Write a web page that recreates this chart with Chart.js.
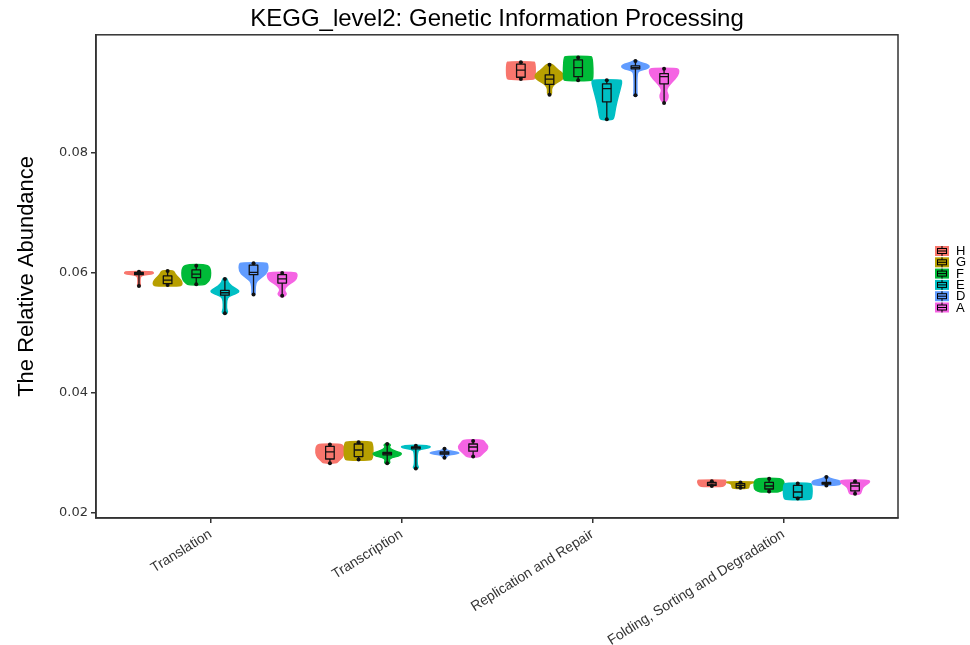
<!DOCTYPE html>
<html>
<head>
<meta charset="utf-8">
<script src="https://cdn.jsdelivr.net/npm/chart.js@4.4.1/dist/chart.umd.min.js"></script>
<style>
    html, body { margin: 0; background: #fff; }
    #wrap { width: 970px; height: 645px; }
</style>
</head>
<body>
<div id="wrap"><canvas id="chart"></canvas></div>
<script>
const categories = ['Translation', 'Transcription', 'Replication and Repair', 'Folding, Sorting and Degradation'];
const groups = ['H', 'G', 'F', 'E', 'D', 'A'];
const groupColors = ['#F8766D', '#B79F00', '#00BA38', '#00BFC4', '#619CFF', '#F564E3'];
const yTicks = [0.02, 0.04, 0.06, 0.08];

// box stats per group: [min, q1, median, q3, max]
const translationBox = [
    [0.0578, 0.0597, 0.0599, 0.0601, 0.0602],
    [0.0580, 0.0582, 0.0588, 0.0595, 0.0603],
    [0.0581, 0.0592, 0.0598, 0.0605, 0.0612],
    [0.0533, 0.0563, 0.0567, 0.0571, 0.0590],
    [0.0564, 0.0597, 0.0601, 0.0613, 0.0616],
    [0.0562, 0.0583, 0.0590, 0.0597, 0.0600]
];
const transcriptionBox = [
    [0.0283, 0.0290, 0.0302, 0.0311, 0.0314],
    [0.0289, 0.0294, 0.0305, 0.0315, 0.0318],
    [0.0283, 0.0297, 0.0299, 0.0301, 0.0315],
    [0.0274, 0.0307, 0.0309, 0.0310, 0.0312],
    [0.0292, 0.0298, 0.0300, 0.0302, 0.0307],
    [0.0294, 0.0303, 0.0310, 0.0315, 0.0320]
];
const replicationBox = [
    [0.0923, 0.0926, 0.0938, 0.0948, 0.0951],
    [0.0897, 0.0914, 0.0923, 0.0930, 0.0947],
    [0.0921, 0.0927, 0.0942, 0.0955, 0.0959],
    [0.0856, 0.0885, 0.0907, 0.0915, 0.0921],
    [0.0896, 0.0940, 0.0942, 0.0945, 0.0953],
    [0.0883, 0.0915, 0.0927, 0.0932, 0.0940]
];
const foldingBox = [
    [0.0245, 0.0246, 0.0248, 0.0251, 0.0253],
    [0.0242, 0.0242, 0.0246, 0.0249, 0.0251],
    [0.0236, 0.0240, 0.0245, 0.0251, 0.0257],
    [0.0224, 0.0226, 0.0235, 0.0246, 0.0249],
    [0.0246, 0.0248, 0.0249, 0.0251, 0.0260],
    [0.0232, 0.0237, 0.0245, 0.0250, 0.0253]
];

// violin outlines per group: [value, relative density width], top to bottom
const translationShape = [
    [[0.06025, 0.85], [0.0601, 1.0], [0.05985, 1.0], [0.0597, 0.4], [0.0595, 0.12], [0.0590, 0.07], [0.0582, 0.07], [0.0578, 0.12]],
    [[0.0604, 0.42], [0.0598, 0.5], [0.0590, 0.85], [0.0585, 1.0], [0.0580, 1.0], [0.0578, 0.8]],
    [[0.0614, 0.55], [0.0610, 1.0], [0.0590, 1.0], [0.0582, 0.7], [0.0580, 0.5]],
    [[0.0591, 0.15], [0.0585, 0.2], [0.0578, 0.45], [0.0572, 0.9], [0.0569, 1.0], [0.0565, 0.75], [0.0561, 0.25], [0.0555, 0.12], [0.0540, 0.1], [0.0535, 0.2], [0.0532, 0.12]],
    [[0.0617, 0.85], [0.0615, 1.0], [0.0602, 1.0], [0.0595, 0.7], [0.0589, 0.35], [0.0584, 0.15], [0.0570, 0.1], [0.0564, 0.12]],
    [[0.0601, 0.8], [0.0599, 1.05], [0.0590, 1.0], [0.0585, 0.75], [0.0580, 0.4], [0.0575, 0.2], [0.0570, 0.15], [0.0566, 0.3], [0.0563, 0.25], [0.0560, 0.1]]
];
const transcriptionShape = [
    [[0.0315, 0.7], [0.0312, 0.95], [0.0300, 1.0], [0.0292, 0.85], [0.0287, 0.6], [0.0283, 0.45]],
    [[0.0319, 0.75], [0.0317, 1.0], [0.0291, 1.0], [0.0288, 0.8]],
    [[0.0316, 0.1], [0.0313, 0.25], [0.0311, 0.12], [0.0306, 0.25], [0.0302, 0.75], [0.0299, 1.05], [0.0295, 0.8], [0.0292, 0.3], [0.0289, 0.12], [0.0284, 0.2], [0.0282, 0.1]],
    [[0.0313, 0.5], [0.0311, 1.0], [0.0309, 1.0], [0.0306, 0.3], [0.0303, 0.1], [0.0280, 0.08], [0.0276, 0.2], [0.0274, 0.1]],
    [[0.0307, 0.1], [0.0304, 0.2], [0.0301, 1.0], [0.0299, 1.0], [0.0297, 0.3], [0.0294, 0.15], [0.0292, 0.1]],
    [[0.0322, 0.55], [0.0320, 0.75], [0.0316, 0.85], [0.0311, 1.05], [0.0305, 0.95], [0.0300, 0.7], [0.0295, 0.5], [0.0293, 0.3]]
];
const replicationShape = [
    [[0.0952, 0.85], [0.0950, 1.0], [0.0925, 1.0], [0.0922, 0.85]],
    [[0.0948, 0.12], [0.0945, 0.3], [0.0938, 0.6], [0.0931, 1.0], [0.0924, 1.0], [0.0918, 0.55], [0.0913, 0.25], [0.0906, 0.12], [0.0900, 0.15], [0.0897, 0.1]],
    [[0.0961, 0.85], [0.0959, 1.0], [0.0923, 1.05], [0.0920, 0.9]],
    [[0.0922, 0.9], [0.0920, 1.05], [0.0912, 1.0], [0.0895, 0.8], [0.0875, 0.6], [0.0858, 0.5], [0.0855, 0.35]],
    [[0.0954, 0.12], [0.0951, 0.25], [0.0948, 0.8], [0.0944, 1.0], [0.0940, 0.8], [0.0937, 0.2], [0.0930, 0.1], [0.0898, 0.1], [0.0895, 0.15]],
    [[0.0941, 0.85], [0.0938, 1.05], [0.0928, 0.95], [0.0918, 0.55], [0.0910, 0.25], [0.0903, 0.15], [0.0896, 0.3], [0.0890, 0.25], [0.0884, 0.1]]
];
const foldingShape = [
    [[0.0255, 0.8], [0.0254, 1.0], [0.0247, 0.95], [0.0244, 0.7]],
    [[0.0252, 0.9], [0.0251, 1.0], [0.0249, 0.6], [0.0243, 0.6], [0.0241, 0.5]],
    [[0.0258, 0.55], [0.0256, 0.9], [0.0252, 1.05], [0.0240, 1.05], [0.0236, 0.8], [0.0235, 0.5]],
    [[0.0250, 0.8], [0.0248, 1.0], [0.0225, 1.0], [0.0222, 0.8]],
    [[0.0261, 0.12], [0.0258, 0.2], [0.0256, 0.5], [0.0253, 1.0], [0.0248, 1.0], [0.0246, 0.6]],
    [[0.0255, 0.85], [0.0253, 1.05], [0.0249, 0.9], [0.0244, 0.55], [0.0238, 0.45], [0.0233, 0.4], [0.0231, 0.25]]
];

const boxStats = [translationBox, transcriptionBox, replicationBox, foldingBox];
const violinShapes = [translationShape, transcriptionShape, replicationShape, foldingShape];

const slot = 0.15;      // dodge width of one group, in category units
const boxWidth = 0.045;
const axisColor = '#333333';
const fontFamily = '"Liberation Sans", Arial, sans-serif';

// smooth closed path through the outline points
function smoothPath(ctx, pts) {
    const n = pts.length;
    const mid = (a, b) => [(a[0] + b[0]) / 2, (a[1] + b[1]) / 2];
    const start = mid(pts[n - 1], pts[0]);
    ctx.moveTo(start[0], start[1]);
    for (let i = 0; i < n; i++) {
        const p = pts[i];
        const m = mid(p, pts[(i + 1) % n]);
        ctx.quadraticCurveTo(p[0], p[1], m[0], m[1]);
    }
    ctx.closePath();
}

const violinPlugin = {
    id: 'violins',
    beforeDatasetsDraw(chart) {
        const { ctx, chartArea, scales: { x, y } } = chart;
        ctx.save();
        ctx.beginPath();
        ctx.rect(chartArea.left, chartArea.top, chartArea.width, chartArea.height);
        ctx.clip();

        violinShapes.forEach((catShapes, c) => {
            catShapes.forEach((outline, g) => {
                const cx = c + 1 + (g - 2.5) * slot;
                const pts = [];
                outline.forEach(([v, w]) => pts.push([x.getPixelForValue(cx + w * slot / 2), y.getPixelForValue(v)]));
                for (let k = outline.length - 1; k >= 0; k--) {
                    const [v, w] = outline[k];
                    pts.push([x.getPixelForValue(cx - w * slot / 2), y.getPixelForValue(v)]);
                }
                ctx.beginPath();
                smoothPath(ctx, pts);
                ctx.fillStyle = groupColors[g];
                ctx.strokeStyle = groupColors[g];
                ctx.lineWidth = 1.5;
                ctx.lineJoin = 'round';
                ctx.fill();
                ctx.stroke();
            });
        });

        boxStats.forEach((catBoxes, c) => {
            catBoxes.forEach(([mn, q1, med, q3, mx], g) => {
                const cx = c + 1 + (g - 2.5) * slot;
                const px = x.getPixelForValue(cx);
                const left = x.getPixelForValue(cx - boxWidth / 2);
                const right = x.getPixelForValue(cx + boxWidth / 2);
                const yMin = y.getPixelForValue(mn), yQ1 = y.getPixelForValue(q1);
                const yMed = y.getPixelForValue(med), yQ3 = y.getPixelForValue(q3);
                const yMax = y.getPixelForValue(mx);

                ctx.strokeStyle = '#111';
                ctx.lineWidth = 1.3;
                ctx.beginPath();
                ctx.moveTo(px, yMax); ctx.lineTo(px, yQ3);
                ctx.moveTo(px, yQ1); ctx.lineTo(px, yMin);
                ctx.stroke();

                ctx.strokeRect(left, yQ3, right - left, yQ1 - yQ3);
                ctx.beginPath();
                ctx.moveTo(left, yMed); ctx.lineTo(right, yMed);
                ctx.stroke();

                ctx.fillStyle = '#111';
                [yMin, yMax].forEach(py => {
                    ctx.beginPath();
                    ctx.arc(px, py, 2, 0, Math.PI * 2);
                    ctx.fill();
                });
            });
        });
        ctx.restore();
    },
    afterDraw(chart) {
        const { ctx, chartArea } = chart;
        ctx.save();
        // panel frame
        ctx.strokeStyle = axisColor;
        ctx.lineWidth = 1.5;
        ctx.strokeRect(chartArea.left, chartArea.top, chartArea.width, chartArea.height);

        // legend
        ctx.font = '13px ' + fontFamily;
        ctx.textBaseline = 'middle';
        groups.forEach((name, i) => {
            const cy = 251 + i * 11.3;
            ctx.fillStyle = groupColors[i];
            ctx.fillRect(935, cy - 5, 14, 10);
            ctx.strokeStyle = '#000';
            ctx.lineWidth = 1;
            ctx.strokeRect(937.5, cy - 2.5, 9, 5);
            ctx.beginPath();
            ctx.moveTo(937.5, cy); ctx.lineTo(946.5, cy);
            ctx.moveTo(942, cy - 5); ctx.lineTo(942, cy - 2.5);
            ctx.moveTo(942, cy + 2.5); ctx.lineTo(942, cy + 5);
            ctx.stroke();
            ctx.fillStyle = '#000';
            ctx.fillText(name, 956, cy + 0.5);
        });
        ctx.restore();
    }
};

new Chart(document.getElementById('chart'), {
    type: 'scatter',
    data: { datasets: [{ data: [] }] },
    options: {
        responsive: true,
        maintainAspectRatio: false,
        animation: false,
        layout: { padding: { right: 72 } },
        plugins: {
            legend: { display: false },
            tooltip: { enabled: false },
            title: {
                display: true,
                text: 'KEGG_level2: Genetic Information Processing',
                fullSize: false,
                color: '#000',
                font: { family: fontFamily, size: 24, weight: 'normal' },
                padding: { top: 5, bottom: 1 }
            }
        },
        scales: {
            x: {
                type: 'linear',
                min: 0.4,
                max: 4.6,
                afterBuildTicks: scale => { scale.ticks = categories.map((c, i) => ({ value: i + 1 })); },
                afterFit: scale => { scale.height = 127; },
                ticks: {
                    autoSkip: false,
                    minRotation: 32,
                    maxRotation: 32,
                    color: '#333',
                    font: { family: fontFamily, size: 14 },
                    callback: v => categories[v - 1] || ''
                },
                grid: { drawOnChartArea: false, drawTicks: true, tickLength: 5, color: axisColor, lineWidth: 1.5 },
                border: { color: axisColor, width: 1.5 }
            },
            y: {
                min: 0.01917,
                max: 0.09967,
                afterBuildTicks: scale => { scale.ticks = yTicks.map(v => ({ value: v })); },
                afterFit: scale => { scale.width = 96; },
                ticks: {
                    color: '#333',
                    font: { family: '"DejaVu Sans", sans-serif', size: 13 },
                    callback: v => v.toFixed(2)
                },
                grid: { drawOnChartArea: false, drawTicks: true, tickLength: 5, color: axisColor, lineWidth: 1.5 },
                border: { color: axisColor, width: 1.5 },
                title: {
                    display: true,
                    text: 'The Relative Abundance',
                    color: '#000',
                    padding: { top: 14, bottom: 0 },
                    font: { family: fontFamily, size: 22 }
                }
            }
        }
    },
    plugins: [violinPlugin]
});
</script>
</body>
</html>
